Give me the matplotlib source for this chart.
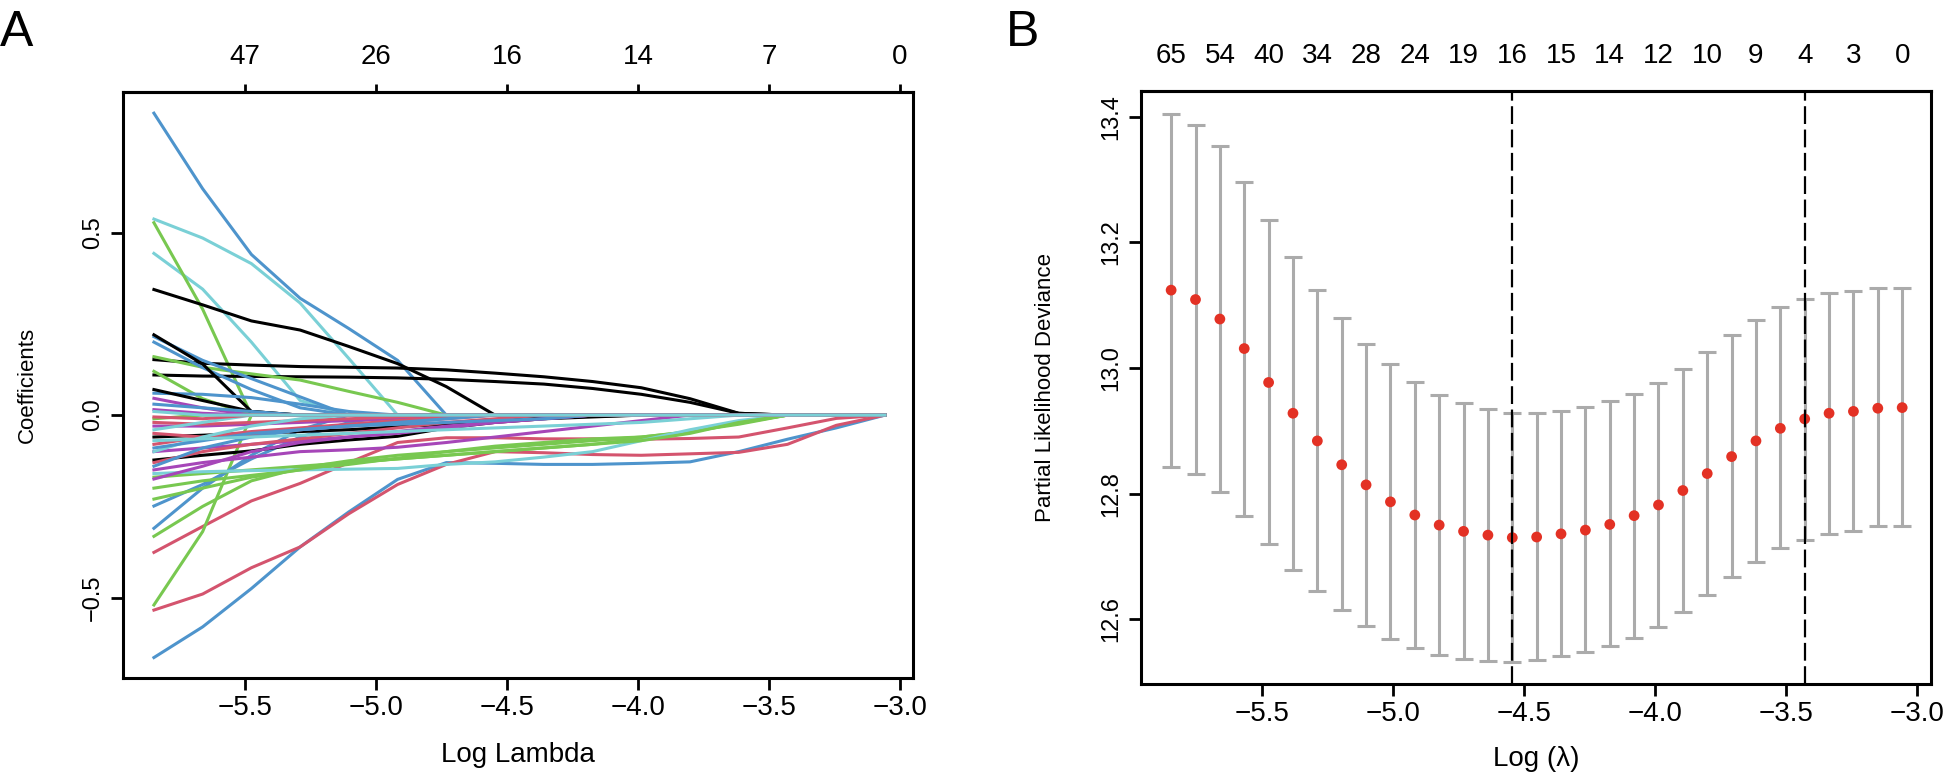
import matplotlib
matplotlib.use("Agg")
import matplotlib.pyplot as plt
import numpy as np

# ---- panel A: coefficient paths (values read at every other lambda step) ----
path_loglam = [-5.847, -5.661, -5.475, -5.289, -5.103, -4.917, -4.731, -4.545,
               -4.359, -4.173, -3.987, -3.801, -3.615, -3.429, -3.243, -3.057]

path_coef = [
    [0.827, 0.62, 0.44, 0.32, 0.237, 0.15, 0, 0, 0, 0, 0, 0, 0, 0, 0, 0],
    [0.537, 0.485, 0.415, 0.307, 0.155, 0, 0, 0, 0, 0, 0, 0, 0, 0, 0, 0],
    [0.443, 0.345, 0.2, 0.04, 0, 0, 0, 0, 0, 0, 0, 0, 0, 0, 0, 0],
    [0.527, 0.29, 0, 0, 0, 0, 0, 0, 0, 0, 0, 0, 0, 0, 0, 0],
    [0.344, 0.302, 0.258, 0.233, 0.188, 0.141, 0.078, 0, 0, 0, 0, 0, 0, 0, 0, 0],
    [0.152, 0.142, 0.137, 0.133, 0.131, 0.129, 0.124, 0.115, 0.105, 0.092, 0.075, 0.045, 0.005, 0, 0, 0],
    [0.11, 0.107, 0.106, 0.105, 0.104, 0.102, 0.098, 0.092, 0.085, 0.073, 0.057, 0.035, 0.005, 0, 0, 0],
    [0.16, 0.131, 0.113, 0.096, 0.065, 0.035, 0, 0, 0, 0, 0, 0, 0, 0, 0, 0],
    [0.12, 0.045, 0, 0, 0, 0, 0, 0, 0, 0, 0, 0, 0, 0, 0, 0],
    [0.215, 0.15, 0.1, 0.05, 0, 0, 0, 0, 0, 0, 0, 0, 0, 0, 0, 0],
    [0.2, 0.13, 0.07, 0.02, 0, 0, 0, 0, 0, 0, 0, 0, 0, 0, 0, 0],
    [0.22, 0.14, 0.01, 0, 0, 0, 0, 0, 0, 0, 0, 0, 0, 0, 0, 0],
    [0.06, 0.057, 0.048, 0.03, 0.01, 0, 0, 0, 0, 0, 0, 0, 0, 0, 0, 0],
    [0.07, 0.04, 0.01, 0, 0, 0, 0, 0, 0, 0, 0, 0, 0, 0, 0, 0],
    [0.046, 0.02, 0, 0, 0, 0, 0, 0, 0, 0, 0, 0, 0, 0, 0, 0],
    [-0.664, -0.58, -0.475, -0.361, -0.265, -0.176, -0.13, -0.132, -0.135, -0.135, -0.132, -0.128, -0.1, -0.066, -0.035, 0],
    [-0.534, -0.49, -0.418, -0.361, -0.27, -0.19, -0.135, -0.1, -0.103, -0.108, -0.11, -0.106, -0.102, -0.08, -0.028, 0],
    [-0.376, -0.305, -0.235, -0.187, -0.13, -0.075, -0.062, -0.062, -0.065, -0.065, -0.066, -0.064, -0.06, -0.035, -0.009, 0],
    [-0.52, -0.319, 0, 0, 0, 0, 0, 0, 0, 0, 0, 0, 0, 0, 0, 0],
    [-0.31, -0.2, -0.11, -0.04, 0, 0, 0, 0, 0, 0, 0, 0, 0, 0, 0, 0],
    [-0.249, -0.19, -0.12, -0.06, -0.02, 0, 0, 0, 0, 0, 0, 0, 0, 0, 0, 0],
    [-0.332, -0.25, -0.18, -0.145, -0.125, -0.11, -0.1, -0.09, -0.08, -0.07, -0.06, -0.045, -0.025, 0, 0, 0],
    [-0.2, -0.18, -0.165, -0.15, -0.135, -0.118, -0.1, -0.085, -0.075, -0.065, -0.06, -0.046, -0.022, 0, 0, 0],
    [-0.17, -0.16, -0.15, -0.14, -0.13, -0.12, -0.11, -0.1, -0.09, -0.08, -0.065, -0.045, -0.02, 0, 0, 0],
    [-0.16, -0.155, -0.152, -0.15, -0.148, -0.146, -0.135, -0.128, -0.115, -0.1, -0.07, -0.04, -0.015, 0, 0, 0],
    [-0.123, -0.11, -0.098, -0.08, -0.068, -0.058, -0.035, -0.02, -0.01, -0.005, 0, 0, 0, 0, 0, 0],
    [-0.06, -0.055, -0.05, -0.045, -0.04, -0.032, -0.025, -0.015, -0.008, -0.003, 0, 0, 0, 0, 0, 0],
    [-0.15, -0.13, -0.115, -0.1, -0.095, -0.088, -0.075, -0.06, -0.045, -0.03, -0.015, 0, 0, 0, 0, 0],
    [-0.1, -0.09, -0.08, -0.07, -0.06, -0.05, -0.035, -0.02, -0.01, 0, 0, 0, 0, 0, 0, 0],
    [-0.175, -0.14, -0.1, -0.075, -0.06, -0.045, -0.03, -0.02, -0.01, 0, 0, 0, 0, 0, 0, 0],
    [-0.03, -0.03, -0.025, -0.02, -0.015, -0.01, -0.005, 0, 0, 0, 0, 0, 0, 0, 0, 0],
    [-0.02, -0.025, -0.02, -0.015, -0.01, -0.005, 0, 0, 0, 0, 0, 0, 0, 0, 0, 0],
    [-0.08, -0.06, -0.045, -0.035, -0.025, -0.015, -0.005, 0, 0, 0, 0, 0, 0, 0, 0, 0],
    [-0.05, -0.06, -0.055, -0.04, -0.03, -0.02, -0.01, 0, 0, 0, 0, 0, 0, 0, 0, 0],
    [-0.13, -0.1, -0.08, -0.065, -0.05, -0.035, -0.02, -0.01, 0, 0, 0, 0, 0, 0, 0, 0],
    [-0.1, -0.06, -0.03, -0.01, 0, 0, 0, 0, 0, 0, 0, 0, 0, 0, 0, 0],
    [-0.04, -0.02, 0, 0, 0, 0, 0, 0, 0, 0, 0, 0, 0, 0, 0, 0],
    [-0.09, -0.07, -0.05, -0.04, -0.03, -0.02, -0.01, 0, 0, 0, 0, 0, 0, 0, 0, 0],
    [-0.14, -0.09, -0.06, -0.04, -0.03, -0.025, -0.02, -0.015, -0.01, 0, 0, 0, 0, 0, 0, 0],
    [-0.07, -0.065, -0.06, -0.055, -0.05, -0.045, -0.04, -0.035, -0.03, -0.025, -0.02, -0.01, 0, 0, 0, 0],
    [-0.23, -0.2, -0.17, -0.15, -0.13, -0.12, -0.11, -0.1, -0.09, -0.08, -0.07, -0.05, -0.02, 0, 0, 0],
    [-0.01, 0, 0, 0, 0, 0, 0, 0, 0, 0, 0, 0, 0, 0, 0, 0],
    [0.015, 0.005, 0, 0, 0, 0, 0, 0, 0, 0, 0, 0, 0, 0, 0, 0],
    [0.03, 0.02, 0.01, 0, 0, 0, 0, 0, 0, 0, 0, 0, 0, 0, 0, 0],
    [-0.005, -0.01, 0, 0, 0, 0, 0, 0, 0, 0, 0, 0, 0, 0, 0, 0],
    [0.01, 0, 0, 0, 0, 0, 0, 0, 0, 0, 0, 0, 0, 0, 0, 0],
]
path_color = ["b", "c", "c", "g", "k", "k", "k", "g", "g", "b", "b", "k", "b", "k", "m",
              "b", "r", "r", "g", "b", "b", "g", "g", "g", "c", "k", "k", "m", "m", "m",
              "m", "r", "r", "r", "r", "c", "c", "b", "b", "c", "g", "g", "m", "b", "r", "c"]

a_ticks = [-5.5, -5.0, -4.5, -4.0, -3.5, -3.0]
a_top_labels = ["47", "26", "16", "14", "7", "0"]
a_yticks = [-0.5, 0.0, 0.5]

# ---- panel B: cross-validation curve ----
cv_loglam = [-5.847, -5.754, -5.661, -5.568, -5.475, -5.382, -5.289, -5.196, -5.103, -5.010,
             -4.917, -4.824, -4.731, -4.638, -4.545, -4.452, -4.359, -4.266, -4.173, -4.080,
             -3.987, -3.894, -3.801, -3.708, -3.615, -3.522, -3.429, -3.336, -3.243, -3.150, -3.057]
cv_mean = [13.124, 13.109, 13.078, 13.031, 12.977, 12.928, 12.884, 12.846, 12.814, 12.787,
           12.766, 12.750, 12.740, 12.734, 12.730, 12.731, 12.736, 12.742, 12.751, 12.765,
           12.782, 12.805, 12.832, 12.859, 12.884, 12.904, 12.919, 12.928, 12.931, 12.936, 12.937]
cv_upper = [13.405, 13.387, 13.353, 13.296, 13.235, 13.176, 13.124, 13.079, 13.039, 13.007,
            12.978, 12.957, 12.944, 12.934, 12.928, 12.928, 12.932, 12.938, 12.947, 12.959,
            12.976, 12.999, 13.025, 13.052, 13.077, 13.097, 13.110, 13.120, 13.123, 13.127, 13.128]
cv_lower = [12.843, 12.831, 12.803, 12.765, 12.720, 12.679, 12.645, 12.615, 12.589, 12.569,
            12.554, 12.543, 12.537, 12.534, 12.532, 12.535, 12.541, 12.548, 12.558, 12.571,
            12.588, 12.611, 12.639, 12.667, 12.692, 12.713, 12.727, 12.736, 12.741, 12.748, 12.748]
cv_nzero = ["65", "54", "40", "34", "28", "24", "19", "16", "15", "14", "12", "10", "9", "4", "3", "0"]
lambda_min = -4.545
lambda_1se = -3.429
b_yticks = [12.6, 12.8, 13.0, 13.2, 13.4]

colors = {"k": "#000000", "r": "#D4546E", "g": "#78C850", "b": "#4E94CC",
          "c": "#7AD0D6", "m": "#A646B8"}
font = ["Liberation Sans", "DejaVu Sans"]

fig = plt.figure(figsize=(19.52, 7.72), dpi=100)
W, H = 1952, 772


def fmt(v):
    return f"{v:.1f}".replace("-", "\u2212")


def frame(ax):
    for s in ax.spines.values():
        s.set_linewidth(2.2)
    ax.tick_params(axis="both", direction="out", width=2.0, length=8.5)
    ax.tick_params(axis="x", labelsize=20, pad=4)
    ax.tick_params(axis="y", labelsize=17, labelrotation=90, pad=5)
    for t in ax.get_xticklabels() + ax.get_yticklabels():
        t.set_family(font)
    for t in ax.get_yticklabels():
        t.set_va("center")


# Panel A
axA = fig.add_axes([123 / W, 1 - 678 / H, 790 / W, 586 / H])
for row, col in zip(path_coef, path_color):
    axA.plot(path_loglam, row, color=colors[col], lw=2.2, solid_joinstyle="round")
axA.set_xlim(-5.965, -2.95)
axA.set_ylim(-0.72, 0.885)
axA.set_xticks(a_ticks)
axA.set_xticklabels([fmt(v) for v in a_ticks])
axA.set_yticks(a_yticks)
axA.set_yticklabels([fmt(v) for v in a_yticks])
frame(axA)
axA.set_xlabel("Log Lambda", fontsize=20, family=font, va="top")
axA.xaxis.set_label_coords(0.5, -0.11)
axA.set_ylabel("Coefficients", fontsize=16, family=font)
axA.yaxis.set_label_coords(-0.108, 0.5)
topA = axA.secondary_xaxis("top")
topA.set_xticks(a_ticks)
topA.set_xticklabels(a_top_labels)
topA.tick_params(direction="out", width=2.0, length=6, labelsize=20, pad=10)
for t in topA.get_xticklabels():
    t.set_family(font)
topA.spines["top"].set_linewidth(2.2)
fig.text(0 / W, 1 - 33 / H, "A", fontsize=36, family=font, ha="left", va="center")

# Panel B
axB = fig.add_axes([1141 / W, 1 - 684 / H, 790 / W, 593 / H])
mean = np.array(cv_mean)
axB.errorbar(cv_loglam, mean, yerr=[mean - np.array(cv_lower), np.array(cv_upper) - mean],
             fmt="none", ecolor="#ABABAB", elinewidth=2.2, capsize=6.5, capthick=2.2, zorder=2)
axB.scatter(cv_loglam, cv_mean, s=60, color="#E33124", edgecolors="none", zorder=3)
for v in (lambda_min, lambda_1se):
    axB.axvline(v, color="black", lw=1.6, ls=(0, (8, 2.5)), zorder=4)
axB.set_xlim(-5.962, -2.947)
axB.set_ylim(12.497, 13.441)
axB.set_xticks(a_ticks)
axB.set_xticklabels([fmt(v) for v in a_ticks])
axB.set_yticks(b_yticks)
axB.set_yticklabels([fmt(v) for v in b_yticks])
frame(axB)
axB.set_xlabel("Log (\u03bb)", fontsize=20, family=font, va="top")
axB.xaxis.set_label_coords(0.5, -0.105)
axB.set_ylabel("Partial Likelihood Deviance", fontsize=16, family=font)
axB.yaxis.set_label_coords(-0.108, 0.5)
topB = axB.secondary_xaxis("top")
topB.set_xticks(cv_loglam[::2])
topB.set_xticklabels(cv_nzero)
topB.tick_params(length=0, labelsize=20, pad=16)
for t in topB.get_xticklabels():
    t.set_family(font)
topB.spines["top"].set_linewidth(2.2)
fig.text(1006 / W, 1 - 33 / H, "B", fontsize=36, family=font, ha="left", va="center")

fig.savefig("out.png", dpi=100)
